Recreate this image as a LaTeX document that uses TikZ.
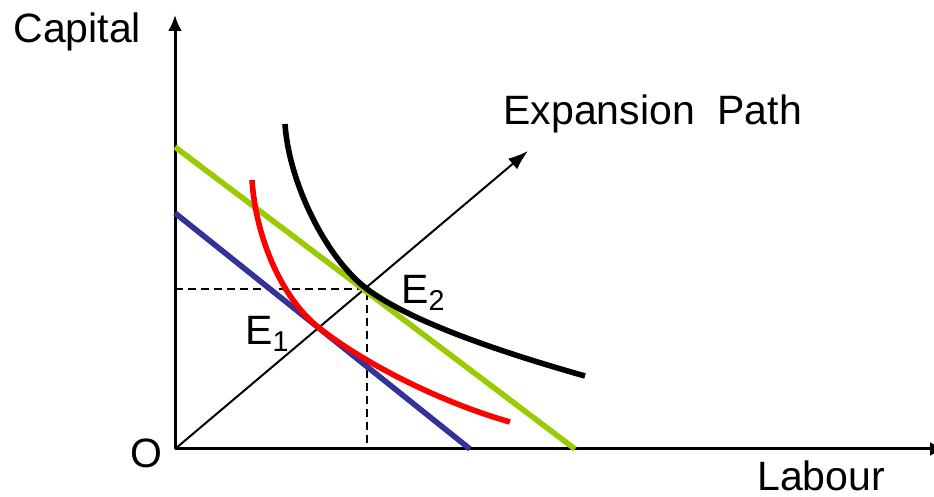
\documentclass[tikz,border=0pt]{standalone}
\usepackage{fontspec}
\setmainfont{Liberation Sans}
\usetikzlibrary{
  arrows.meta,
  calc,
  positioning
}
\definecolor{costblue}{RGB}{51,51,153}
\definecolor{costgreen}{RGB}{153,204,0}

\begin{document}
\begin{tikzpicture}[x=0.5pt,y=0.5pt,>=Latex,
  every node/.style={font=\fontsize{20.5}{24}\selectfont,inner sep=0pt},
  axis/.style={line width=1.5pt,-{Latex[length=8pt,width=7pt]}},
  isocost/.style={line width=2.8pt},
  isoquant/.style={line width=2.8pt},
  guide/.style={line width=0.9pt,dash pattern=on 4pt off 2.5pt}]
  \useasboundingbox (0,0) rectangle (934,497);
  % axes
  \coordinate (O) at (175,48);
  \coordinate (Ktop) at (175,482);
  \coordinate (Lend) at (946,48);
  \node[anchor=base west] (cap) at (13,454) {Capital};
  \node[anchor=base west] (lab) at (757,6) {Labour};
  \node[anchor=base west] (o) at (130,29) {O};
  % points of tangency
  \coordinate (E1) at (318,170);
  \coordinate (E2) at (367,208);
  \coordinate (K2) at (175,208);
  \coordinate (L2) at (367,48);
  \coordinate (P) at (528,346);
  \node[anchor=base west] (path) at (503,372) {Expansion~~Path};
  \node[anchor=base west] (e1) at (245,152) {E\textsubscript{1}};
  \node[anchor=base west] (e2) at (401,193) {E\textsubscript{2}};
  % isocost lines
  \coordinate (bK) at (175,284);
  \coordinate (bL) at (470,48);
  \coordinate (gK) at (175,350);
  \coordinate (gL) at (575,48);
  % isoquant ends
  \coordinate (r1) at (252,317);
  \coordinate (r2) at (510,75);
  \coordinate (k1) at (285,373);
  \coordinate (k2) at (585,121);

  \draw[axis] (O) -- (Ktop);
  \draw[axis] (O) -- (Lend);
  \draw[line width=1pt,-{Latex[length=10pt,width=7pt]}] (O) -- (P);
  \draw[guide] (K2) -- (E2) -- (L2);
  \draw[isocost,costblue] (bK) -- (bL);
  \draw[isocost,costgreen] (gK) -- (gL);
  \draw[isoquant,red] (r1) .. controls (256,257) and (283,198) .. (E1)
    .. controls (365,132.5) and (443,94) .. (r2);
  \draw[isoquant,black] (k1) .. controls (289,313) and (327,238) .. (E2)
    .. controls (415,172) and (518,140) .. (k2);
\end{tikzpicture}
\end{document}
